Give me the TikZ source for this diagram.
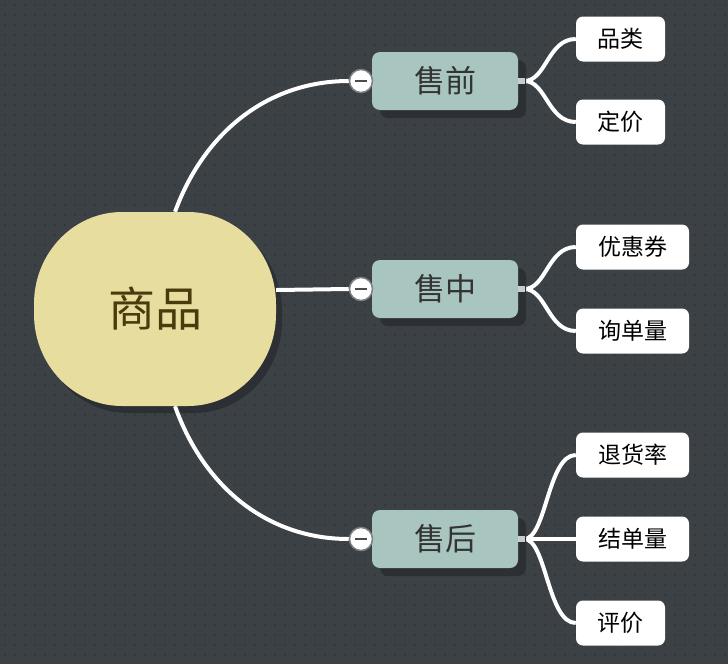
\documentclass[tikz,border=0pt]{standalone}
\usepackage{fontspec}
\newfontfamily\cjk{Noto Sans CJK SC}
\usepackage{xcolor}
\usetikzlibrary{shadows}
\usetikzlibrary{positioning}

\definecolor{bgcol}{HTML}{3C4146}
\definecolor{dotcol}{HTML}{34383C}
\definecolor{shadcol}{HTML}{2C3034}
\definecolor{rootcol}{HTML}{E6DD9E}
\definecolor{roottext}{HTML}{4A3A0C}
\definecolor{branchcol}{HTML}{A9C5C0}
\definecolor{stubcol}{HTML}{C9CCCC}

\pgfdeclarelayer{bg}
\pgfdeclarelayer{links}
\pgfsetlayers{bg,links,main}

\newcommand{\rootpath}{(122,212) -- (188,212)
  arc[start angle=-90,end angle=0,x radius=88,y radius=92] -- (276,314)
  arc[start angle=0,end angle=90,x radius=88,y radius=92] -- (122,406)
  arc[start angle=90,end angle=180,x radius=88,y radius=92] -- (34,304)
  arc[start angle=180,end angle=270,x radius=88,y radius=92] -- cycle}

\begin{document}
\begin{tikzpicture}[x=1pt,y=-1pt,
    root/.style={text=roottext,minimum width=242pt,minimum height=194pt,
      inner sep=0pt,font=\cjk\fontsize{47}{50}\selectfont},
    branch/.style={fill=branchcol,text=black!80,rounded corners=8pt,
      minimum width=146pt,minimum height=58pt,inner sep=0pt,
      font=\cjk\fontsize{31}{34}\selectfont,
      drop shadow={shadow xshift=8pt,shadow yshift=-8pt,fill=shadcol,opacity=1}},
    leaf/.style={fill=white,text=black,rounded corners=7pt,
      minimum height=45pt,inner sep=0pt,
      font=\cjk\fontsize{23}{26}\selectfont},
    fold/.style={circle,fill=white,draw=gray,line width=1.5pt,
      minimum size=23pt,inner sep=0pt},
    link/.style={white,line width=4pt}]

  \useasboundingbox (0,0) rectangle (728,664);

  % background with dots, and the root's shadow
  \begin{pgfonlayer}{bg}
    \fill[bgcol] (0,0) rectangle (728,664);
    \foreach \i in {0,...,72}
      \foreach \j in {0,...,65}
        {\fill[dotcol] (\i*10+4,\j*10+4) rectangle ++(2,2);}
    \fill[shadcol,shift={(6,7)}] \rootpath;
  \end{pgfonlayer}

  \fill[rootcol] \rootpath;
  \node[root] (goods) at (155,309) {商品};

  \node[branch] (pre) at (445,81) {售前};
  \node[branch] (mid) at (445,289) {售中};
  \node[branch] (post) at (445,539) {售后};

  \node[leaf,minimum width=89pt] (cat) at (620.5,39) {品类};
  \node[leaf,minimum width=89pt] (price) at (620.5,122) {定价};
  \node[leaf,minimum width=113pt] (coupon) at (632.5,247) {优惠券};
  \node[leaf,minimum width=113pt] (inquiry) at (632.5,331) {询单量};
  \node[leaf,minimum width=113pt] (refund) at (632.5,455) {退货率};
  \node[leaf,minimum width=113pt] (closed) at (632.5,539) {结单量};
  \node[leaf,minimum width=89pt] (review) at (620.5,623) {评价};

  % collapse buttons
  \foreach \n/\y in {f1/81,f2/289,f3/539}
  {
    \node[fold] (\n) at (361,\y) {};
    \draw[black!70,line width=1.5pt] ([xshift=-6pt]\n.center) -- ([xshift=6pt]\n.center);
  }

  % stubs
  \foreach \b in {pre,mid,post}
  {
    \fill[stubcol] (\b.east) ++(0,-3) rectangle ++(7,6);
    \coordinate (\b-s) at ([xshift=6pt]\b.east);
  }

  \begin{pgfonlayer}{links}
    % main links
    \draw[link] ([xshift=20pt]goods.north) .. controls (205,130) and (270,81) .. (f1.west);
    \draw[link] ([yshift=19pt]goods.east) -- (f2.west);
    \draw[link] ([xshift=20pt]goods.south) .. controls (205,490) and (270,539) .. (f3.west);

    % leaf links
    \draw[link] (pre-s) .. controls +(22,0) and +(-28,0) .. (cat.west);
    \draw[link] (pre-s) .. controls +(22,0) and +(-28,0) .. (price.west);
    \draw[link] (mid-s) .. controls +(22,0) and +(-28,0) .. (coupon.west);
    \draw[link] (mid-s) .. controls +(22,0) and +(-28,0) .. (inquiry.west);
    \draw[link] (post-s) .. controls +(22,0) and +(-28,0) .. (refund.west);
    \draw[link] (post-s) -- (closed.west);
    \draw[link] (post-s) .. controls +(22,0) and +(-28,0) .. (review.west);
  \end{pgfonlayer}
\end{tikzpicture}
\end{document}
